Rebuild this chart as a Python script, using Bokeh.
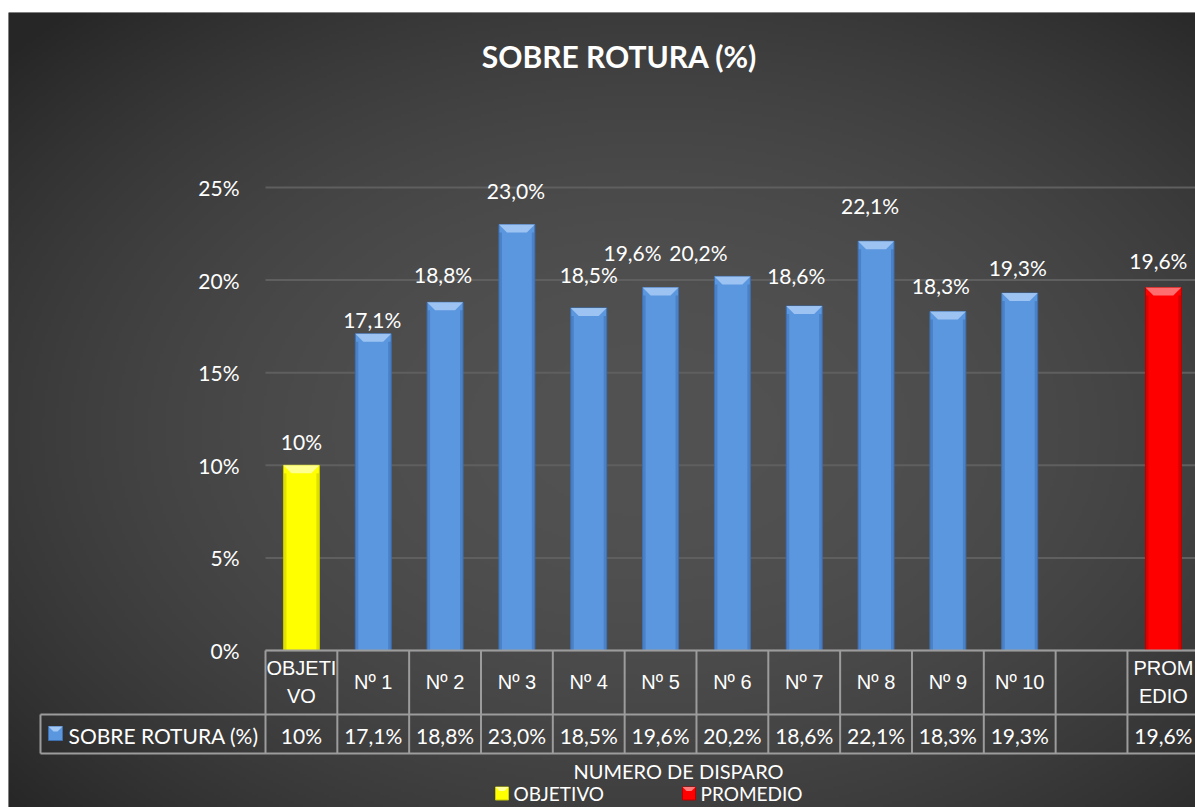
import numpy as np
from bokeh.plotting import figure
from bokeh.models import Range1d, Grid
from bokeh.core.properties import value
from bokeh.embed import file_html
from bokeh.resources import INLINE

# ---------------- data ----------------
title_text = "SOBRE ROTURA (%)"
series_name = "SOBRE ROTURA (%)"
axis_title = "NUMERO DE DISPARO"
categories = ["OBJETIVO", "Nº 1", "Nº 2", "Nº 3", "Nº 4", "Nº 5", "Nº 6",
              "Nº 7", "Nº 8", "Nº 9", "Nº 10", "", "PROMEDIO"]
header_labels = ["OBJETI\nVO", "Nº 1", "Nº 2", "Nº 3", "Nº 4", "Nº 5", "Nº 6",
                 "Nº 7", "Nº 8", "Nº 9", "Nº 10", "", "PROM\nEDIO"]
values = [0.100, 0.171, 0.188, 0.230, 0.185, 0.196, 0.202,
          0.186, 0.221, 0.183, 0.193, None, 0.196]
value_labels = ["10%", "17,1%", "18,8%", "23,0%", "18,5%", "19,6%", "20,2%",
                "18,6%", "22,1%", "18,3%", "19,3%", "", "19,6%"]
y_ticks = [0.0, 0.05, 0.10, 0.15, 0.20, 0.25]
y_tick_labels = ["0%", "5%", "10%", "15%", "20%", "25%"]
legend_items = ["OBJETIVO", "PROMEDIO"]

# label placement tweaks in pixels (positions, not data)
label_dx = [0, -1, -2, -1, 0, -28, -34, -8, -6, -7, -2, 0, -5]
label_dy = [24, 14, 28, 34, 33, 35, 24, 31, 36, 26, 26, 0, 27]

# ---------------- layout helpers ----------------
SLOT = 71.83     # px per category slot
PXY = 1852.0     # px per unit of y
X0_PX, Y0_PX = 265.0, 650.0   # page px of x=-0.5 and y=0


def X(px):
    return (px - X0_PX) / SLOT - 0.5


def Y(py):
    return (Y0_PX - py) / PXY


def DX(px):
    return px / SLOT


def DY(px):
    return px / PXY


FONT = value("Lato")
HFONT = value("Liberation Sans")
FS = "21px"
WHITE = "#ffffff"

x_start, x_end = X(8), X(1195)
y_start, y_end = Y(807), Y(12)

p = figure(width=1195, height=807, output_backend="svg", toolbar_location=None,
           x_range=Range1d(x_start, x_end), y_range=Range1d(y_start, y_end),
           x_axis_location=None, y_axis_location=None,
           min_border_left=8, min_border_right=0, min_border_bottom=0, min_border_top=12)
p.outline_line_color = None
p.border_fill_color = "#ffffff"
p.background_fill_color = "#404040"
for r in p.center:
    if isinstance(r, Grid):
        r.visible = False

# ---------------- background gradient ----------------
W, H = 400, 268
jj = (np.arange(W) + 0.5) / W * (1195 - 8) + 8
ii = (np.arange(H) + 0.5) / H * (807 - 12) + 12
PX, PY = np.meshgrid(jj, ii)
r2 = ((PX - 650) / 860.0) ** 2 + ((PY - 430) / 575.0) ** 2
g = 82 - (82 - 38) * np.clip(r2, 0, 1)
g = g[::-1]
img = np.empty((H, W), dtype=np.uint32)
view = img.view(dtype=np.uint8).reshape((H, W, 4))
view[..., 0] = g.astype(np.uint8)
view[..., 1] = g.astype(np.uint8)
view[..., 2] = g.astype(np.uint8)
view[..., 3] = 255
p.image_rgba(image=[img], x=x_start, y=y_start, dw=x_end - x_start, dh=y_end - y_start,
             level="image")

# ---------------- gridlines (start at plot-area left edge) ----------------
p.segment(x0=[-0.5] * len(y_ticks), x1=[x_end + 1] * len(y_ticks), y0=y_ticks, y1=y_ticks,
          line_color="#5f5f5f", line_width=2)

# y tick labels
p.text(x=[X(239)] * len(y_ticks), y=y_ticks, text=y_tick_labels,
       text_font=FONT, text_font_size=FS, text_color=WHITE,
       text_align="right", text_baseline="middle")

# ---------------- bars ----------------
styles = {"OBJETIVO": ("#ffff00", "#ffffa0", "#c9c900"),
          "PROMEDIO": ("#ff0000", "#ff7a7a", "#b80000")}
blue = ("#5b97df", "#a3c8f3", "#3e70b0")

bx, btop, bfill, bline, bev_xs, bev_ys, bev_col = [], [], [], [], [], [], []
lx_l, lx_r, ltop, lcol = [], [], [], []
hw = 0.25
for i, v in enumerate(values):
    if v is None:
        continue
    fill, light, dark = styles.get(categories[i], blue)
    bx.append(i)
    btop.append(v)
    bfill.append(fill)
    bline.append(dark)
    bev_xs.append([i - hw, i + hw, i + hw - DX(8), i - hw + DX(8)])
    bev_ys.append([v, v, v - DY(8), v - DY(8)])
    bev_col.append(light)
    lx_l += [i - hw, i + hw - DX(3)]
    lx_r += [i - hw + DX(3), i + hw]
    ltop += [v - DY(8), v - DY(8)]
    lcol += [dark, dark]

p.vbar(x=bx, top=btop, bottom=0, width=2 * hw, fill_color=bfill,
       line_color=bline, line_width=1)
p.quad(left=lx_l, right=lx_r, top=ltop, bottom=[0] * len(ltop),
       fill_color=lcol, fill_alpha=0.55, line_color=None)
p.patches(xs=bev_xs, ys=bev_ys, fill_color=bev_col, line_color=None, fill_alpha=0.9)

# value labels above bars
lab_x, lab_y, lab_t = [], [], []
for i, v in enumerate(values):
    if v is None:
        continue
    lab_x.append(i + DX(label_dx[i]))
    lab_y.append(v + DY(label_dy[i]))
    lab_t.append(value_labels[i])
p.text(x=lab_x, y=lab_y, text=lab_t, text_font=FONT, text_font_size=FS,
       text_color=WHITE, text_align="center", text_baseline="middle")

# ---------------- data table ----------------
n = len(categories)
LINE = "#9c9c9c"
seg_x0, seg_y0, seg_x1, seg_y1 = [], [], [], []
for k in range(n + 1):
    xb = -0.5 + k
    seg_x0.append(xb); seg_x1.append(xb); seg_y0.append(0); seg_y1.append(Y(753))
seg_x0 += [-0.5, X(40), X(40), X(40)]
seg_x1 += [n, n, n, X(40)]
seg_y0 += [0, Y(714), Y(753), Y(714)]
seg_y1 += [0, Y(714), Y(753), Y(753)]
p.segment(x0=seg_x0, y0=seg_y0, x1=seg_x1, y1=seg_y1, line_color=LINE, line_width=2)

# header labels
hx, hy, ht = [], [], []
for i, lab in enumerate(header_labels):
    parts = lab.split("\n")
    if len(parts) == 1:
        hx.append(i); hy.append(Y(681)); ht.append(parts[0])
    else:
        hx += [i, i]; hy += [Y(667), Y(695)]; ht += parts
p.text(x=hx, y=hy, text=ht, text_font=HFONT, text_font_size="20px", text_color=WHITE,
       text_align="center", text_baseline="middle")

# value row
p.text(x=list(range(n)), y=[Y(735)] * n, text=value_labels, text_font=FONT,
       text_font_size=FS, text_color=WHITE, text_align="center", text_baseline="middle")

# legend key in table
p.quad(left=[X(48)], right=[X(62)], top=[Y(726)], bottom=[Y(740)],
       fill_color=blue[0], line_color=blue[2], line_width=1)
p.patches(xs=[[X(48), X(62), X(57), X(53)]], ys=[[Y(726), Y(726), Y(731), Y(731)]],
          fill_color=blue[1], line_color=None)
p.text(x=[X(68)], y=[Y(735)], text=[series_name], text_font=FONT, text_font_size=FS,
       text_color=WHITE, text_align="left", text_baseline="middle")

# ---------------- axis title ----------------
p.text(x=[X(678)], y=[Y(770)], text=[axis_title], text_font=FONT, text_font_size="20px",
       text_color=WHITE, text_align="center", text_baseline="middle")

# ---------------- bottom legend ----------------
leg_px = [495, 682]
LEG_MID = 793
for name, px in zip(legend_items, leg_px):
    fill, light, dark = styles[name]
    p.quad(left=[X(px)], right=[X(px + 13)], top=[Y(LEG_MID - 6.5)], bottom=[Y(LEG_MID + 6.5)],
           fill_color=fill, line_color=dark, line_width=1)
    p.patches(xs=[[X(px), X(px + 13), X(px + 9), X(px + 4)]],
              ys=[[Y(LEG_MID - 6.5), Y(LEG_MID - 6.5), Y(LEG_MID - 2.5), Y(LEG_MID - 2.5)]],
              fill_color=light, line_color=None)
    p.text(x=[X(px + 18)], y=[Y(LEG_MID)], text=[name], text_font=FONT,
           text_font_size="19px", text_color=WHITE, text_align="left",
           text_baseline="middle")

# ---------------- title ----------------
p.text(x=[X(619)], y=[Y(55)], text=[title_text], text_font=FONT, text_font_size="30px",
       text_font_style="bold", text_color=WHITE, text_align="center",
       text_baseline="middle")

open("out.html", "w").write(file_html(p, INLINE))
